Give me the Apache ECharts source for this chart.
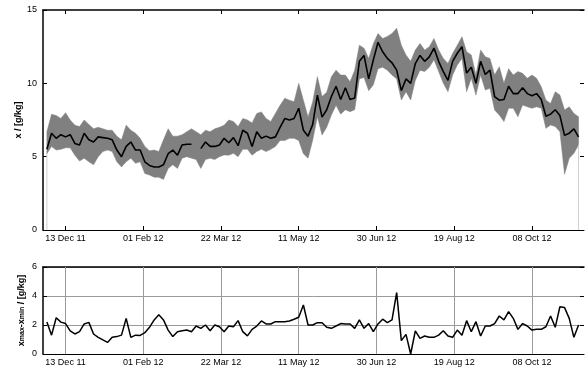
<!DOCTYPE html>
<html>
<head>
<meta charset="utf-8">
<script src="https://cdn.jsdelivr.net/npm/echarts@6/dist/echarts.min.js"></script>
<style>
  html, body { margin: 0; padding: 0; background: #fff; }
  #chart { width: 586px; height: 369px; }
</style>
</head>
<body>
<div id="chart"></div>
<script>
// sampling of the series (one value every 3 days from 1 Dec 2011)
const startDay = '2011-12-01'
const stepDays = 3

// mean mixing ratio, g/kg (null = gap in the record)
const meanVals = [
  5.5, 6.6, 6.25, 6.5, 6.35, 6.5, 5.9, 5.8, 6.6, 6.15,
  6.0, 6.35, 6.3, 6.25, 6.15, 5.45, 5.0, 5.7, 6.0, 5.45,
  5.45, 4.65, 4.4, 4.3, 4.3, 4.45, 5.2, 5.45, 5.1, 5.8,
  5.85, 5.85, null, 5.55, 6.0, 5.7, 5.7, 5.8, 6.25, 5.95,
  6.3, 5.75, 6.8, 6.6, 5.7, 6.7, 6.25, 6.4, 6.25, 6.35,
  7.0, 7.6, 7.5, 7.6, 8.3, 6.8, 6.4, 7.2, 9.2, 7.7,
  8.2, 9.1, 9.8, 8.9, 9.7, 8.9, 9.0, 11.5, 11.9, 10.3,
  11.6, 12.8, 12.15, 11.7, 11.4, 10.9, 9.5, 10.3, 10.0, 11.35,
  11.9, 11.5, 11.8, 12.4, 11.5, 10.8, 10.2, 11.5, 12.05, 12.5,
  10.7, 11.1, 10.0, 11.5, 10.6, 10.9, 9.1, 8.85, 8.9, 9.8,
  9.3, 9.3, 9.7, 9.3, 9.15, 9.3, 8.9, 7.75, 7.9, 8.2,
  7.8, 6.45, 6.6, 6.9, 6.35
]

// upper edge of the grey band, g/kg
const upperVals = [
  6.7, 7.9, 7.8, 7.6, 8.0, 7.5, 7.15, 7.05, 7.5, 7.2,
  6.9, 7.0, 6.9, 6.8, 6.8, 6.4, 6.15, 7.15, 6.8, 6.6,
  6.25, 5.7, 5.4, 5.45, 5.35, 6.15, 6.9, 6.4, 6.4, 6.5,
  6.7, 6.9, 6.7, 6.5, 6.8, 6.7, 6.9, 7.0, 7.15, 7.5,
  7.4, 7.05, 7.6, 7.5, 7.3, 7.95, 8.05, 7.6, 7.4, 7.95,
  8.5, 8.98, 8.85, 8.75, 10.0, 8.85, 7.7, 8.75, 10.45, 9.1,
  9.4, 10.45, 10.9, 10.56, 10.56, 10.1, 10.9, 12.6, 12.4, 11.7,
  12.7, 13.4, 13.05, 13.2, 13.4, 13.75, 12.6, 11.93, 11.5, 12.27,
  12.72, 12.27, 12.5, 13.06, 12.27, 11.7, 11.36, 12.04, 12.6, 13.18,
  12.15, 11.93, 10.57, 12.27, 11.81, 11.7, 10.57, 11.13, 10.0, 11.0,
  10.57, 10.8, 10.68, 10.34, 10.57, 10.34, 9.77, 8.86, 8.63, 9.43,
  9.2, 8.18, 8.4, 7.95, 7.72
]

// lower edge of the grey band, g/kg
const lowerVals = [
  5.2, 5.7, 5.45, 5.5, 5.6, 5.6, 5.1, 4.7, 4.9, 4.65,
  4.45, 5.0, 5.35, 5.45, 5.35, 4.65, 4.3, 4.65, 4.9, 4.55,
  4.65, 3.85, 3.75, 3.6, 3.6, 3.45, 4.2, 4.45, 4.2, 4.9,
  5.0, 4.9, 4.8, 4.2, 4.8, 4.9, 4.8, 5.0, 5.12, 5.1,
  5.23, 5.0, 5.5, 5.5, 5.1, 5.35, 5.5, 5.35, 5.5, 5.7,
  6.1, 6.1, 6.25, 6.25, 6.1, 5.2, 4.9, 6.13, 7.73, 6.47,
  7.0, 7.84, 8.5, 7.9, 8.2, 8.07, 8.2, 10.3, 10.4, 9.5,
  9.9, 11.0, 11.1, 10.9, 10.56, 10.3, 8.86, 9.43, 8.86, 10.2,
  10.9, 10.8, 11.1, 11.6, 10.8, 10.0, 9.43, 10.57, 11.25, 11.7,
  9.43, 10.34, 9.2, 10.57, 9.54, 9.66, 8.18, 7.84, 7.39, 8.3,
  8.3, 7.72, 8.52, 8.4, 8.3, 8.4, 8.3, 6.93, 7.16, 7.05,
  6.7, 3.8, 4.89, 5.23, 5.8
]

// x_max - x_min, g/kg (lower panel)
const rangeVals = [
  2.2, 1.3, 2.5, 2.2, 2.1, 1.6, 1.38, 1.54, 2.07, 2.18,
  1.38, 1.15, 0.97, 0.8, 1.15, 1.2, 1.3, 2.46, 1.15, 1.3,
  1.28, 1.47, 1.84, 2.35, 2.7, 2.35, 1.65, 1.2, 1.54, 1.6,
  1.65, 1.54, 1.93, 1.77, 2.0, 1.6, 2.0, 1.88, 1.54, 1.93,
  1.88, 2.3, 1.54, 1.25, 1.7, 1.93, 2.28, 2.07, 2.07, 2.23,
  2.23, 2.23, 2.28, 2.4, 2.53, 3.38, 2.0, 2.0, 2.16, 2.16,
  1.84, 1.77, 1.93, 2.1, 2.07, 2.07, 1.77, 2.35, 1.77, 2.1,
  1.54, 2.07, 2.4, 2.16, 2.35, 4.23, 0.92, 1.35, 0.0, 1.6,
  1.08, 1.24, 1.15, 1.15, 1.3, 1.6, 1.24, 1.15, 1.65, 1.3,
  2.3, 1.54, 2.23, 1.24, 1.93, 1.93, 2.1, 2.62, 2.35, 2.92,
  2.46, 1.7, 2.1, 1.93, 1.65, 1.7, 1.7, 1.88, 2.62, 1.84,
  3.26, 3.2, 2.46, 1.15, 2.0
]

// date ticks and axis range
const tickDays = ['2011-12-13', '2012-02-01', '2012-03-22', '2012-05-11', '2012-06-30', '2012-08-19', '2012-10-08']
const axisStart = '2011-11-28T12:00:00Z'
const axisEnd = '2012-11-10T12:00:00Z'

const DAY = 86400000
const MONTHS = ['Jan', 'Feb', 'Mar', 'Apr', 'May', 'Jun', 'Jul', 'Aug', 'Sep', 'Oct', 'Nov', 'Dec']
const t0 = Date.parse(startDay + 'T00:00:00Z')
const times = meanVals.map((v, i) => t0 + i * stepDays * DAY)
const ticks = tickDays.map(d => Date.parse(d + 'T00:00:00Z'))
const xMin = Date.parse(axisStart)
const xMax = Date.parse(axisEnd)

function fmtDate (ms) {
  const d = new Date(ms)
  const dd = String(d.getUTCDate()).padStart(2, '0')
  const yy = String(d.getUTCFullYear() % 100).padStart(2, '0')
  return dd + ' ' + MONTHS[d.getUTCMonth()] + ' ' + yy
}

const pair = (arr) => arr.map((v, i) => [times[i], v])
const FONT = 'Liberation Sans'

function xAxisFor (gridIndex, position, showLabel) {
  return {
    type: 'value',
    gridIndex,
    position,
    min: xMin,
    max: xMax,
    axisLine: {onZero: false, lineStyle: {color: '#000', width: position === 'top' ? 1.5 : 1}},
    axisTick: {inside: true, length: 4, customValues: ticks, lineStyle: {color: '#000'}},
    axisLabel: {
      show: showLabel,
      customValues: ticks,
      formatter: fmtDate,
      color: '#000',
      fontFamily: FONT,
      fontSize: 9,
      margin: 4
    },
    splitLine: {show: false}
  }
}

function yAxisFor (gridIndex, position, max, interval, opts) {
  const left = position === 'left'
  return Object.assign({
    type: 'value',
    gridIndex,
    position,
    min: 0,
    max,
    interval,
    axisLine: {show: left, onZero: false, lineStyle: {color: '#000', width: 1.5}},
    axisTick: {show: true, inside: true, length: 4, lineStyle: {color: '#000'}},
    axisLabel: {show: left, color: '#000', fontFamily: FONT, fontSize: 9, margin: 6},
    splitLine: {show: false}
  }, opts || {})
}

// grey min/max envelope as one polygon, positioned through the axes
function renderBand (params, api) {
  const top = upperVals.map((v, i) => api.coord([times[i], v]))
  const bottom = lowerVals.map((v, i) => api.coord([times[i], v])).reverse()
  const first = times[0]
  const last = times[times.length - 1]
  const a0 = api.coord([first, 0])
  const a1 = api.coord([first, lowerVals[0]])
  const b0 = api.coord([last, 0])
  const b1 = api.coord([last, lowerVals[lowerVals.length - 1]])
  return {
    type: 'group',
    children: [
      {
        type: 'polygon',
        shape: {points: top.concat(bottom)},
        style: {fill: '#808080', stroke: '#808080', lineWidth: 0.5}
      },
      {type: 'line', shape: {x1: a0[0], y1: a0[1], x2: a1[0], y2: a1[1]}, style: {stroke: '#d0d0d0', lineWidth: 1}},
      {type: 'line', shape: {x1: b0[0], y1: b0[1], x2: b1[0], y2: b1[1]}, style: {stroke: '#d0d0d0', lineWidth: 1}}
    ]
  }
}

const chart = echarts.init(document.getElementById('chart'), null, {renderer: 'canvas'})

chart.setOption({
  animation: false,
  backgroundColor: '#fff',
  grid: [
    {left: 43, top: 10, width: 541, height: 220},
    {left: 43, top: 267, width: 541, height: 87}
  ],
  xAxis: [
    xAxisFor(0, 'bottom', true),
    xAxisFor(0, 'top', false),
    xAxisFor(1, 'bottom', true),
    xAxisFor(1, 'top', false)
  ],
  yAxis: [
    yAxisFor(0, 'left', 15, 5, {
      name: 'x / [g/kg]',
      nameLocation: 'middle',
      nameRotate: 90,
      nameGap: 20,
      nameMoveOverlap: false,
      nameTextStyle: {color: '#000', fontFamily: FONT, fontSize: 9, fontWeight: 'bold'}
    }),
    yAxisFor(0, 'right', 15, 5),
    yAxisFor(1, 'left', 6, 2, {
      name: '{n|x}{s|max}{n|-x}{s|min}{n| / [g/kg]}',
      nameLocation: 'middle',
      nameRotate: 90,
      nameGap: 17,
      nameMoveOverlap: false,
      nameTextStyle: {
        color: '#000',
        fontFamily: FONT,
        rich: {
          n: {fontFamily: FONT, fontSize: 9, fontWeight: 'bold', color: '#000', lineHeight: 9, padding: [0, 0, 4, 0], verticalAlign: 'top'},
          s: {fontFamily: FONT, fontSize: 7, fontWeight: 'bold', color: '#000', lineHeight: 7, verticalAlign: 'bottom'}
        }
      },
      splitLine: {show: true, lineStyle: {color: '#9a9a9a', width: 1}}
    }),
    yAxisFor(1, 'right', 6, 2)
  ],
  series: [
    {
      type: 'custom',
      xAxisIndex: 0,
      yAxisIndex: 0,
      data: [[times[0], upperVals[0]]],
      renderItem: renderBand,
      silent: true,
      z: 2
    },
    {
      type: 'line',
      xAxisIndex: 0,
      yAxisIndex: 0,
      data: pair(meanVals),
      symbol: 'none',
      connectNulls: false,
      lineStyle: {color: '#000', width: 1.6},
      z: 5
    },
    {
      type: 'line',
      xAxisIndex: 2,
      yAxisIndex: 2,
      data: pair(rangeVals),
      symbol: 'none',
      lineStyle: {color: '#000', width: 1.5},
      z: 5,
      markLine: {
        silent: true,
        symbol: 'none',
        label: {show: false},
        lineStyle: {color: '#9a9a9a', width: 1, type: 'solid'},
        data: ticks.map(t => ({xAxis: t}))
      }
    }
  ]
})
</script>
</body>
</html>
